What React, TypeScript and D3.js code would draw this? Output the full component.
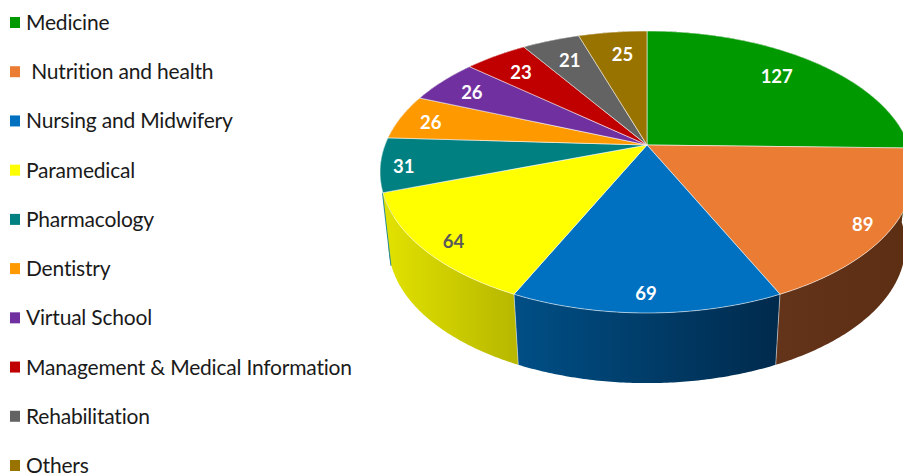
import React from "react";
import * as d3 from "d3";

const categories = [
  "Medicine",
  " Nutrition and health",
  "Nursing and Midwifery",
  "Paramedical",
  "Pharmacology",
  "Dentistry",
  "Virtual School",
  "Management & Medical Information",
  "Rehabilitation",
  "Others",
];
const counts = [127, 89, 69, 64, 31, 26, 26, 23, 21, 25];
const faceColors = ["#009900", "#ea7c33", "#0070c0", "#ffff00", "#008080", "#ff9900", "#7030a0", "#c00000", "#636363", "#997300"];
const wallLeft = ["#006600", "#63331a", "#004f86", "#e2e200", "#2a8c96", "#bb7000", "#502078", "#900000", "#484848", "#705400"];
const wallRight = ["#006600", "#5c2e12", "#002a4c", "#b8b800", "#2a8c96", "#bb7000", "#502078", "#900000", "#484848", "#705400"];
const labelColors = ["#fff", "#fff", "#fff", "#595959", "#fff", "#fff", "#fff", "#fff", "#fff", "#fff"];
const labelReach = [0.77, 0.9, 0.9, 0.9, 0.9, 0.88, 0.83, 0.8, 0.8, 0.8];
const labelNudgeX = [-1, -2, -1, 4, -4, 1, -3, -2, 2, 4];
const labelNudgeY = [-3, 5, 0, 3, 3, 2, 1, 0, 1, 2];

const WIDTH = 903;
const HEIGHT = 476;
const APEX_X = 647;
const APEX_Y = 145;
const RADIUS_X = 262;
const RADIUS_Y = 135.8;
const TILT = 0.1915;
const WALL_DROP = 74;
const WALL_SHRINK_X = 0.968;
const WALL_SHRINK_Y = 0.977;
const PHARMACOLOGY = 4;

// Perspective projection of a point on the tilted pie disc (angle clockwise from 12 o'clock).
const project = (angle: number, reach = 1, scaleX = 1, scaleY = 1, drop = 0): [number, number] => {
  const w = 1 + TILT * reach * Math.cos(angle);
  return [
    APEX_X + (scaleX * RADIUS_X * reach * Math.sin(angle)) / w,
    APEX_Y + drop - (scaleY * RADIUS_Y * reach * Math.cos(angle)) / w,
  ];
};
const projectBase = (angle: number) => project(angle, 1, WALL_SHRINK_X, WALL_SHRINK_Y, WALL_DROP);

const sampleArc = (a0: number, a1: number) => {
  const n = Math.max(2, Math.ceil((a1 - a0) / 0.01));
  return d3.range(n + 1).map((i) => a0 + ((a1 - a0) * i) / n);
};

const toPath = d3.line<[number, number]>();

export default function App() {
  const slices = d3.pie<number>().sort(null).value((d) => d)(counts);
  const legendY = d3.scalePoint<string>().domain(categories).range([22.5, 465.5]);
  const midAngle = (i: number) => (slices[i].startAngle + slices[i].endAngle) / 2;
  // Walls are painted back to front so nearer slices cover those behind them.
  const wallOrder = d3.range(slices.length).sort((a, b) => Math.cos(midAngle(b)) - Math.cos(midAngle(a)));

  return (
    <svg width={WIDTH} height={HEIGHT} style={{ position: "absolute", left: 0, top: 0, background: "#fff" }}>
      <defs>
        {slices.map((s, i) => {
          const xs = [s.startAngle, s.endAngle].map((a) => project(a)[0]);
          return (
            <linearGradient
              key={i}
              id={`wall-${i}`}
              gradientUnits="userSpaceOnUse"
              x1={Math.min(...xs)}
              x2={Math.max(...xs)}
              y1={0}
              y2={0}
            >
              <stop offset="0" stopColor={wallLeft[i]} />
              <stop offset="1" stopColor={wallRight[i]} />
            </linearGradient>
          );
        })}
      </defs>

      {/* Thin strip of the pharmacology wall, seen just past the paramedical wall */}
      <path
        d={toPath([project(slices[PHARMACOLOGY].startAngle), projectBase(slices[PHARMACOLOGY].startAngle)]) as string}
        stroke={wallLeft[PHARMACOLOGY]}
        strokeWidth={2}
      />

      {/* Outer rim of the disc */}
      {wallOrder.map((i) => {
        const s = slices[i];
        const arc = sampleArc(s.startAngle, s.endAngle);
        const top = arc.map((a) => project(a));
        const bottom = arc.map((a) => projectBase(a)).reverse();
        return <path key={i} d={(toPath([...top, ...bottom]) as string) + "Z"} fill={`url(#wall-${i})`} />;
      })}

      {/* Pale seams where neighbouring front walls meet */}
      {slices.slice(1, 3).map((s, i) => (
        <path
          key={i}
          d={toPath([project(s.endAngle), projectBase(s.endAngle)]) as string}
          stroke="#fff"
          strokeOpacity={0.6}
          strokeWidth={0.8}
        />
      ))}

      {/* Top faces */}
      {slices.map((s, i) => {
        const rim = sampleArc(s.startAngle, s.endAngle).map((a) => project(a));
        return (
          <path
            key={i}
            d={(toPath([[APEX_X, APEX_Y], ...rim]) as string) + "Z"}
            fill={faceColors[i]}
            stroke="#fff"
            strokeOpacity={0.7}
            strokeWidth={0.8}
            strokeLinejoin="round"
          />
        );
      })}

      {/* Value labels */}
      {slices.map((s, i) => {
        const [x, y] = project(midAngle(i), labelReach[i]);
        return (
          <text
            key={i}
            x={x + labelNudgeX[i]}
            y={y + labelNudgeY[i]}
            textAnchor="middle"
            dominantBaseline="central"
            fontFamily="Lato, sans-serif"
            fontWeight={700}
            fontSize={18.5}
            fill={labelColors[i]}
          >
            {counts[i]}
          </text>
        );
      })}

      {/* Legend */}
      {categories.map((c, i) => (
        <g key={c} transform={`translate(0,${legendY(c)})`}>
          <rect x={10} y={-5.5} width={10} height={11} fill={faceColors[i]} />
          <text
            x={26}
            y={-1}
            dominantBaseline="central"
            style={{ whiteSpace: "pre", letterSpacing: "-0.2px" }}
            fontFamily="Lato, sans-serif"
            fontSize={21}
            fill="#1a1a1a"
          >
            {c}
          </text>
        </g>
      ))}
    </svg>
  );
}
